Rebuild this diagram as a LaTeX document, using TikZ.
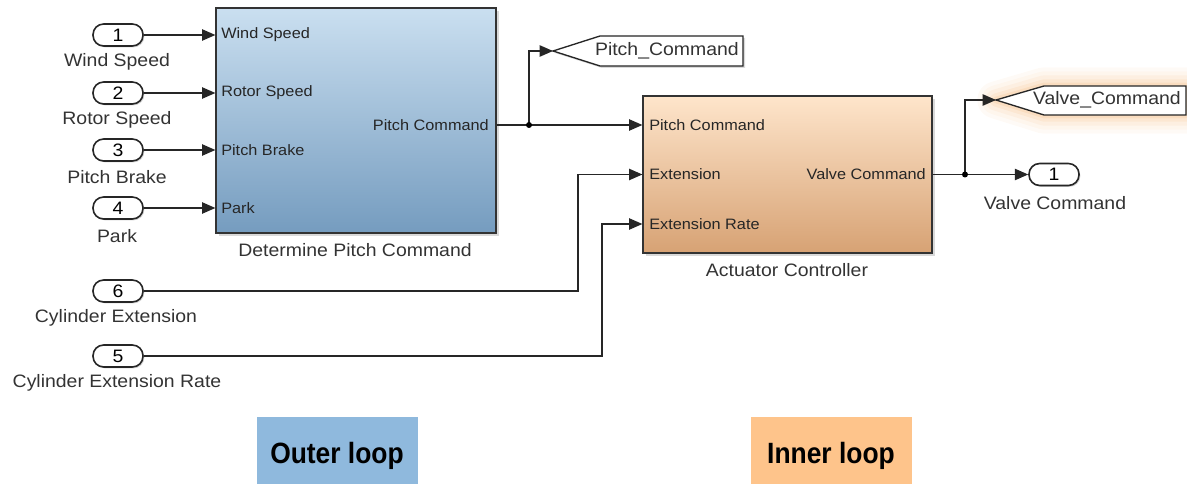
\documentclass[tikz,border=0pt]{standalone}
\usepackage{fontspec}
\setmainfont{Liberation Sans}[FakeStretch=1.08]
\newfontfamily\loopfont{Liberation Sans}[FakeStretch=0.9]
\usetikzlibrary{arrows.meta,shadows}
\definecolor{blueT}{HTML}{CADFF0}
\definecolor{blueB}{HTML}{759CBF}
\definecolor{orgT}{HTML}{FEE5CB}
\definecolor{orgB}{HTML}{D7A274}
\definecolor{outerc}{HTML}{8FB9DD}
\definecolor{innerc}{HTML}{FEC48B}
\definecolor{glowc}{HTML}{F2A657}
\begin{document}
\begin{tikzpicture}[x={(0.75pt,0)},y={(0,-0.75pt)},
  wire/.style={line width=1pt, draw=black!85},
  arr/.style={wire,-{Triangle[length=10pt,width=8.5pt]}},
  port/.style={draw=black!85, line width=1.2pt, rounded corners=8pt, minimum width=37.5pt, minimum height=16.5pt, fill=white, inner sep=0pt, font=\fontsize{13.5}{16}\selectfont, drop shadow={shadow xshift=1pt, shadow yshift=-1pt, opacity=0.35}},
  lbl/.style={font=\fontsize{13.5}{16}\selectfont, text=black!80, inner sep=0pt},
  plbl/.style={font=\fontsize{11.3}{13}\selectfont, text=black!85, inner sep=0pt},
  blk/.style={draw=black!80, line width=0.9pt, inner sep=0pt, drop shadow={shadow xshift=2pt, shadow yshift=-2pt, opacity=0.3}},
  tagshape/.style={draw=black!85, line width=1pt, fill=white},
  dot/.style={circle, fill=black, inner sep=0pt, minimum size=4.5pt},
  loopbox/.style={inner sep=0pt, minimum width=120.75pt, minimum height=50.25pt, text height=21pt, text depth=1.4pt, font=\loopfont\bfseries\fontsize{22}{26}\selectfont},
]
\useasboundingbox (0,0) rectangle (1187,484);

% blocks
\node[blk, top color=blueT, bottom color=blueB, minimum width=210pt, minimum height=168.75pt] (dpc) at (356,120.5) {};
\node[blk, top color=orgT, bottom color=orgB, minimum width=216.75pt, minimum height=117.75pt] (act) at (787.5,174.5) {};
\node[lbl] (dpcl) at (355,250) {Determine Pitch Command};
\node[lbl] (actl) at (787,270) {Actuator Controller};

% port labels block 1
\node[plbl, anchor=west] (p1) at (221,35) {Wind Speed};
\node[plbl, anchor=west] (p2) at (221,93) {Rotor Speed};
\node[plbl, anchor=west] (p3) at (221,150) {Pitch Brake};
\node[plbl, anchor=west] (p4) at (221,208) {Park};
\node[plbl, anchor=east] (po1) at (489,125) {Pitch Command};
% port labels block 2
\node[plbl, anchor=west] (q1) at (649,125) {Pitch Command};
\node[plbl, anchor=west] (q2) at (649,174.5) {Extension};
\node[plbl, anchor=west] (q3) at (649,224) {Extension Rate};
\node[plbl, anchor=east] (qo) at (926,174.5) {Valve Command};

% inports
\node[port] (i1) at (118,35) {1};
\node[port] (i2) at (118,93) {2};
\node[port] (i3) at (118,150) {3};
\node[port] (i4) at (118,208) {4};
\node[port] (i6) at (118,291) {6};
\node[port] (i5) at (118,356) {5};
\node[lbl] (l1) at (117,62) {Wind Speed};
\node[lbl] (l2) at (117,120) {Rotor Speed};
\node[lbl] (l3) at (117,177) {Pitch Brake};
\node[lbl] (l4) at (117,236) {Park};
\node[lbl] (l6) at (116,318) {Cylinder Extension};
\node[lbl] (l5) at (117,383) {Cylinder Extension Rate};

% outport
\node[port] (o1) at (1054,174.5) {1};
\node[lbl] (ol) at (1055,203) {Valve Command};

% goto tags
\draw[tagshape, drop shadow={shadow xshift=1.5pt, shadow yshift=-1.5pt, opacity=0.3}] (553,51) -- (600,36) -- (743,36) -- (743,66) -- (600,66) -- cycle;
\coordinate (pctip) at (553,51);
\node[lbl, anchor=east] (pct) at (739,51) {Pitch\_Command};

\foreach \w/\o in {28/0.05,22/0.06,16/0.08,10/0.11,5/0.15}
  \draw[line width=\w pt, glowc, opacity=\o, line join=round] (996,100) -- (1044,86) -- (1186,86) -- (1186,115) -- (1044,115) -- cycle;
\draw[tagshape] (996,100) -- (1044,86) -- (1186,86) -- (1186,115) -- (1044,115) -- cycle;
\coordinate (vctip) at (996,100);
\node[lbl, anchor=east] (vct) at (1181,100) {Valve\_Command};

% wires
\draw[arr] (i1.east) -- (i1.east -| dpc.west);
\draw[arr] (i2.east) -- (i2.east -| dpc.west);
\draw[arr] (i3.east) -- (i3.east -| dpc.west);
\draw[arr] (i4.east) -- (i4.east -| dpc.west);

\coordinate (j1) at (529,125);
\draw[arr] (dpc.east |- j1) -- (j1 -| act.west);
\draw[arr] (j1) |- (pctip);
\node[dot] (d1) at (j1) {};

\coordinate (j2) at (965,174.5);
\draw[wire] (act.east) -- (j2);
\draw[arr] (j2) -- (o1.west);
\draw[arr] (j2) |- (vctip);
\node[dot] (d2) at (j2) {};

\coordinate (b6) at (578,174.5);
\coordinate (b5) at (602,224);
\draw[arr] (i6.east) -| (b6) -- (b6 -| act.west);
\draw[arr] (i5.east) -| (b5) -- (b5 -| act.west);

% loop labels
\node[loopbox, fill=outerc] (outer) at (337,450.5) {Outer loop};
\node[loopbox, fill=innerc] (inner) at (831,450.5) {Inner loop};
\end{tikzpicture}
\end{document}
